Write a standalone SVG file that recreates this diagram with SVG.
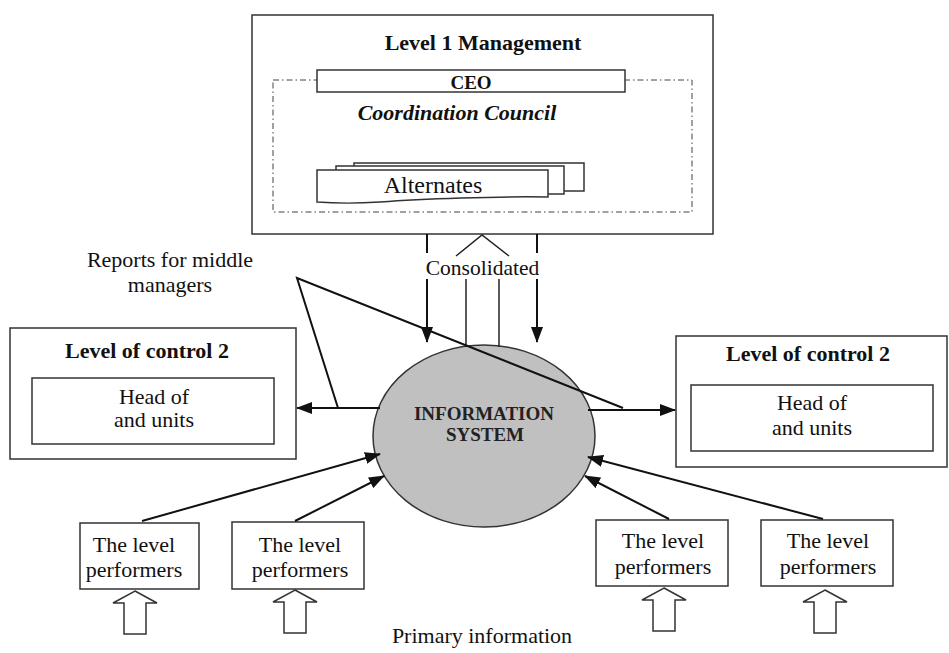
<svg xmlns="http://www.w3.org/2000/svg" xmlns:xlink="http://www.w3.org/1999/xlink" width="949" height="653" viewBox="0 0 949 653">
<style>
.box{fill:#fff;stroke:#333;stroke-width:1.5}
.t{font-family:"Liberation Serif","Times New Roman",serif;fill:#111;font-size:22px;text-anchor:middle}
.b{font-weight:bold}
.ln{stroke:#111;stroke-width:2;fill:none}
.thin{stroke:#222;stroke-width:1.5;fill:none}
.blk{fill:#fff;stroke:#333;stroke-width:1.5}
</style>
<defs>
<marker id="ah" markerUnits="userSpaceOnUse" markerWidth="16" markerHeight="12" viewBox="0 0 16 12" refX="15" refY="6" orient="auto">
<path d="M0,0 L16,6 L0,12 Z" fill="#111"/>
</marker>
<path id="blkarrow" d="M0,0 L22,12 L11,12 L11,43 L-11,43 L-11,12 L-22,12 Z"/>
</defs>
<rect width="949" height="653" fill="#fff"/>

<g id="level1">
<rect class="box" x="252" y="15" width="461" height="219"/>
<text class="t b" x="483" y="50">Level 1 Management</text>
<rect x="273" y="80" width="419" height="132" fill="none" stroke="#444" stroke-width="1" stroke-dasharray="6 3 1.5 3"/>
<rect class="box" x="317" y="70" width="308" height="22"/>
<text class="t b" x="471" y="89" style="font-size:19px">CEO</text>
<text class="t b" x="457" y="120" font-style="italic">Coordination Council</text>
<g id="alternates">
<rect class="box" x="354" y="163" width="230" height="28"/>
<rect class="box" x="336" y="166" width="228" height="28"/>
<path class="box" d="M317,170 H548 V197 C500,196 420,199 380,202 C350,204 330,203 317,202 Z"/>
<text class="t" x="433" y="193" style="font-size:24px">Alternates</text>
</g>
</g>

<g id="left-control">
<rect class="box" x="10" y="328" width="286" height="131"/>
<text class="t b" x="147" y="358">Level of control 2</text>
<rect class="box" x="32" y="378" width="242" height="66"/>
<text class="t" x="154" y="404">Head of</text>
<text class="t" x="154" y="427">and units</text>
</g>

<g id="right-control">
<rect class="box" x="676" y="336" width="271" height="131"/>
<text class="t b" x="808" y="361">Level of control 2</text>
<rect class="box" x="691" y="385" width="242" height="66"/>
<text class="t" x="812" y="410">Head of</text>
<text class="t" x="812" y="435">and units</text>
</g>

<g id="info-system">
<ellipse cx="484" cy="436" rx="111" ry="91" fill="#c0c0c0" stroke="#333" stroke-width="1.5"/>
<text class="t b" x="484" y="420" style="font-size:19px;fill:#222">INFORMATION</text>
<text class="t b" x="485" y="441" style="font-size:19px;fill:#222">SYSTEM</text>
</g>

<g id="performer1">
<rect class="box" x="80" y="523" width="119" height="66"/>
<text class="t" x="134" y="552">The level</text>
<text class="t" x="134" y="577">performers</text>
<use xlink:href="#blkarrow" class="blk" x="135" y="591"/>
</g>
<g id="performer2">
<rect class="box" x="232" y="522" width="132" height="67"/>
<text class="t" x="300" y="552">The level</text>
<text class="t" x="300" y="577">performers</text>
<use xlink:href="#blkarrow" class="blk" x="295" y="590"/>
</g>
<g id="performer3">
<rect class="box" x="596" y="520" width="132" height="66"/>
<text class="t" x="663" y="548">The level</text>
<text class="t" x="663" y="574">performers</text>
<use xlink:href="#blkarrow" class="blk" x="664" y="588"/>
</g>
<g id="performer4">
<rect class="box" x="761" y="520" width="132" height="66"/>
<text class="t" x="828" y="548">The level</text>
<text class="t" x="828" y="574">performers</text>
<use xlink:href="#blkarrow" class="blk" x="825" y="590"/>
</g>

<g id="connectors">
<line class="ln" x1="427" y1="234" x2="427" y2="253"/>
<line class="ln" x1="427" y1="279" x2="427" y2="342" marker-end="url(#ah)"/>
<line class="ln" x1="537" y1="234" x2="537" y2="253"/>
<line class="ln" x1="537" y1="279" x2="537" y2="342" marker-end="url(#ah)"/>
<polyline class="thin" points="456,256 482,235 509,256"/>
<line class="thin" x1="466" y1="279" x2="466" y2="347"/>
<line class="thin" x1="499" y1="279" x2="499" y2="347"/>
<polyline class="ln" points="338,408 297,278 623,408"/>
<line class="ln" x1="380" y1="408" x2="297" y2="408" marker-end="url(#ah)"/>
<line class="ln" x1="588" y1="410" x2="675" y2="410" marker-end="url(#ah)"/>
<line class="ln" x1="142" y1="521" x2="380" y2="454" marker-end="url(#ah)"/>
<line class="ln" x1="295" y1="521" x2="384" y2="476" marker-end="url(#ah)"/>
<line class="ln" x1="669" y1="519" x2="585" y2="476" marker-end="url(#ah)"/>
<line class="ln" x1="823" y1="519" x2="588" y2="457" marker-end="url(#ah)"/>
</g>

<g id="labels">
<text class="t" x="482.5" y="275" style="font-size:21.5px">Consolidated</text>
<text class="t" x="170" y="267">Reports for middle</text>
<text class="t" x="170" y="292">managers</text>
<text class="t" x="482" y="643">Primary information</text>
</g>
</svg>
